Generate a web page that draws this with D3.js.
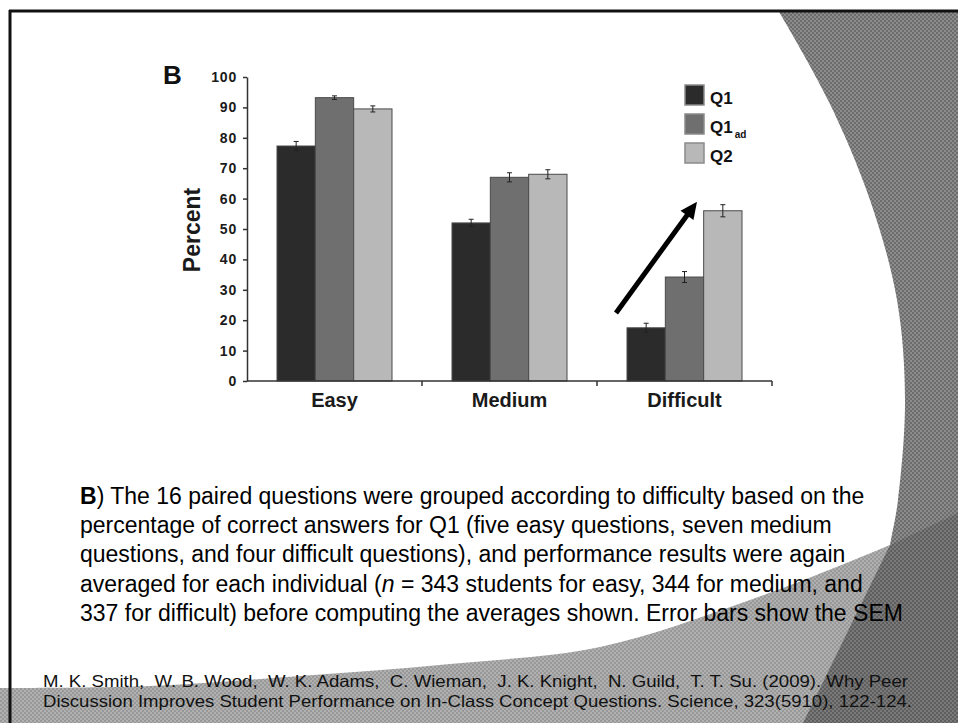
<!DOCTYPE html>
<html>
<head>
<meta charset="utf-8">
<script src="https://cdn.jsdelivr.net/npm/d3@7"></script>
<style>
  html, body { margin: 0; padding: 0; background: #ffffff; }
  svg { display: block; }
  text { font-family: "Liberation Sans", Arial, Helvetica, sans-serif; }
</style>
</head>
<body>
<svg id="chart" width="958" height="723"></svg>
<script>
// ---------------- data ----------------
const categories = ["Easy", "Medium", "Difficult"];
const seriesKeys = ["Q1", "Q1ad", "Q2"];
const q1Values   = [77.3, 52.0, 17.5];
const q1adValues = [93.2, 67.0, 34.2];
const q2Values   = [89.5, 68.0, 56.0];
const q1Errors   = [1.5, 1.2, 1.5];
const q1adErrors = [0.6, 1.5, 1.8];
const q2Errors   = [1.0, 1.5, 2.0];
const yTickValues = [0, 10, 20, 30, 40, 50, 60, 70, 80, 90, 100];
const panelLabel = "B";
const yAxisTitle = "Percent";
const captionLines = [
  [{t: "B", b: true}, {t: ") The 16 paired questions were grouped according to difficulty based on the"}],
  [{t: "percentage of correct answers for Q1 (five easy questions, seven medium"}],
  [{t: "questions, and four difficult questions), and performance results were again"}],
  [{t: "averaged for each individual ("}, {t: "n", i: true}, {t: " = 343 students for easy, 344 for medium, and"}],
  [{t: "337 for difficult) before computing the averages shown. Error bars show the SEM"}]
];
const citationLines = [
  "M. K. Smith,  W. B. Wood,  W. K. Adams,  C. Wieman,  J. K. Knight,  N. Guild,  T. T. Su. (2009). Why Peer",
  "Discussion Improves Student Performance on In-Class Concept Questions. Science, 323(5910), 122-124."
];

// ---------------- styles ----------------
const seriesColors = {Q1: "#2b2b2b", Q1ad: "#6f6f6f", Q2: "#b8b8b8"};

const svg = d3.select("#chart");
const defs = svg.append("defs");

function checker(id, a, b) {
  const p = defs.append("pattern").attr("id", id).attr("patternUnits", "userSpaceOnUse")
    .attr("width", 4).attr("height", 4);
  p.append("rect").attr("width", 4).attr("height", 4).attr("fill", a);
  p.append("rect").attr("x", 0).attr("y", 0).attr("width", 2).attr("height", 2).attr("fill", b);
  p.append("rect").attr("x", 2).attr("y", 2).attr("width", 2).attr("height", 2).attr("fill", b);
}
checker("patRibbon", "#8c8c8c", "#6c6c6c");
checker("patWave", "#b0b0b0", "#989898");
checker("patDark", "#7a7a7a", "#5e5e5e");

// ---------------- slide background ----------------
const curve = d3.line().curve(d3.curveCatmullRom.alpha(0.5));
const ribbonPts = [[778, 10], [828, 100], [870, 200], [897, 300], [905, 400], [898, 500], [890, 545], [880, 600]];
svg.append("path")
  .attr("d", curve(ribbonPts) + `L958,723L958,10Z`)
  .attr("fill", "url(#patRibbon)");
const wavePts = [[0, 688], [150, 686], [300, 676], [450, 664], [600, 647], [750, 600], [890, 545], [958, 515]];
svg.append("path")
  .attr("d", curve(wavePts) + `L958,723L0,723Z`)
  .attr("fill", "url(#patWave)");
svg.append("path")
  .attr("d", "M890,545L958,513L958,723L803,723Z")
  .attr("fill", "url(#patDark)");

// slide frame lines
svg.append("line").attr("x1", 9).attr("x2", 958).attr("y1", 11).attr("y2", 11)
  .attr("stroke", "#111").attr("stroke-width", 3);
svg.append("line").attr("x1", 10).attr("x2", 10).attr("y1", 10).attr("y2", 723)
  .attr("stroke", "#111").attr("stroke-width", 3);

// ---------------- chart ----------------
const plot = {left: 247, right: 772, top: 77, bottom: 381};

const y = d3.scaleLinear().domain([0, 100]).range([plot.bottom, plot.top]);
const x0 = d3.scaleBand().domain(categories).range([plot.left, plot.right]).paddingInner(0).paddingOuter(0);
const x1 = d3.scaleBand().domain(seriesKeys).range([30, 145]).padding(0);

const valuesBy = {Q1: q1Values, Q1ad: q1adValues, Q2: q2Values};
const errorsBy = {Q1: q1Errors, Q1ad: q1adErrors, Q2: q2Errors};

const rows = [];
categories.forEach((c, i) => {
  seriesKeys.forEach(k => rows.push({cat: c, key: k, v: valuesBy[k][i], e: errorsBy[k][i]}));
});

const g = svg.append("g");

// bars
g.selectAll("rect.bar").data(rows).join("rect")
  .attr("class", "bar")
  .attr("x", d => x0(d.cat) + x1(d.key))
  .attr("y", d => y(d.v))
  .attr("width", x1.bandwidth())
  .attr("height", d => y(0) - y(d.v))
  .attr("fill", d => seriesColors[d.key])
  .attr("stroke", "#4a4a4a")
  .attr("stroke-width", 1);

// error bars
const eb = g.selectAll("g.err").data(rows).join("g").attr("class", "err")
  .attr("transform", d => `translate(${x0(d.cat) + x1(d.key) + x1.bandwidth() / 2},0)`);
eb.append("line").attr("x1", 0).attr("x2", 0)
  .attr("y1", d => y(d.v + d.e)).attr("y2", d => y(d.v - d.e))
  .attr("stroke", "#222").attr("stroke-width", 1);
eb.append("line").attr("x1", -2.5).attr("x2", 2.5)
  .attr("y1", d => y(d.v + d.e)).attr("y2", d => y(d.v + d.e))
  .attr("stroke", "#222").attr("stroke-width", 1);
eb.append("line").attr("x1", -2.5).attr("x2", 2.5)
  .attr("y1", d => y(d.v - d.e)).attr("y2", d => y(d.v - d.e))
  .attr("stroke", "#222").attr("stroke-width", 1);

// y axis
const yAxis = g.append("g").attr("transform", `translate(${plot.left},0)`)
  .call(d3.axisLeft(y).tickValues(yTickValues).tickSize(4).tickSizeOuter(0).tickPadding(6));
yAxis.select(".domain").attr("stroke", "#333").attr("stroke-width", 1.5);
yAxis.selectAll(".tick line").attr("stroke", "#333").attr("stroke-width", 1.5);
yAxis.selectAll(".tick text")
  .attr("fill", "#1a1a1a")
  .style("font-family", "'Liberation Sans', Arial, sans-serif")
  .style("font-size", "14px").style("font-weight", "bold").style("letter-spacing", "0.8px");

// x axis (ticks at category boundaries)
const xAxis = g.append("g").attr("transform", `translate(0,${plot.bottom})`);
xAxis.append("line").attr("x1", x0.range()[0]).attr("x2", x0.range()[1])
  .attr("stroke", "#333").attr("stroke-width", 1.5);
xAxis.selectAll("line.tk").data(categories).join("line").attr("class", "tk")
  .attr("x1", d => x0(d) + x0.bandwidth()).attr("x2", d => x0(d) + x0.bandwidth())
  .attr("y1", 0).attr("y2", 5).attr("stroke", "#333").attr("stroke-width", 1.5);
xAxis.selectAll("text").data(categories).join("text")
  .attr("x", d => x0(d) + x0.bandwidth() / 2)
  .attr("y", 26)
  .attr("text-anchor", "middle")
  .style("font-size", "20px").style("font-weight", "bold").attr("fill", "#1a1a1a")
  .text(d => d);

// y title
svg.append("text")
  .attr("transform", "translate(200,230) rotate(-90)")
  .attr("text-anchor", "middle")
  .style("font-size", "23px").style("font-weight", "bold").attr("fill", "#1a1a1a")
  .text(yAxisTitle);

// panel label
svg.append("text").attr("x", 163).attr("y", 84)
  .style("font-size", "26px").style("font-weight", "bold").attr("fill", "#111")
  .text(panelLabel);

// legend
const lg = svg.append("g").attr("transform", "translate(685,85)");
const li = lg.selectAll("g").data(seriesKeys).join("g")
  .attr("transform", (d, i) => `translate(0,${i * 29})`);
li.append("rect").attr("width", 19).attr("height", 20)
  .attr("fill", d => seriesColors[d]).attr("stroke", "#8a8a8a").attr("stroke-width", 1.5);
const lt = li.append("text").attr("x", 25).attr("y", 19)
  .style("font-size", "17px").style("font-weight", "bold").attr("fill", "#111");
lt.append("tspan").text(d => d.slice(0, 2));
lt.filter(d => d.length > 2).append("tspan")
  .attr("dy", 5).attr("dx", 2).style("font-size", "10px").text(d => d.slice(2));

// annotation arrow (Difficult group, from Q1 level up past Q2)
const aStart = [x0("Difficult") + 19, y(22.4)];
const aEnd = [x0("Difficult") + 100, y(59)];
const ang = Math.atan2(aEnd[1] - aStart[1], aEnd[0] - aStart[0]);
const headLen = 17, headW = 8;
const base = [aEnd[0] - headLen * Math.cos(ang), aEnd[1] - headLen * Math.sin(ang)];
svg.append("line")
  .attr("x1", aStart[0]).attr("y1", aStart[1]).attr("x2", base[0] + 2 * Math.cos(ang)).attr("y2", base[1] + 2 * Math.sin(ang))
  .attr("stroke", "#000").attr("stroke-width", 5);
svg.append("path")
  .attr("d", `M${aEnd[0]},${aEnd[1]}L${base[0] + headW * Math.sin(ang)},${base[1] - headW * Math.cos(ang)}L${base[0] - headW * Math.sin(ang)},${base[1] + headW * Math.cos(ang)}Z`)
  .attr("fill", "#000");

// caption paragraph
const cap = svg.append("g");
captionLines.forEach((parts, i) => {
  const t = cap.append("text").attr("x", 80).attr("y", 504 + i * 29.2)
    .style("font-size", "23px").attr("fill", "#000").style("white-space", "pre");
  parts.forEach(p => {
    t.append("tspan").text(p.t)
      .style("font-weight", p.b ? "bold" : "normal")
      .style("font-style", p.i ? "italic" : "normal");
  });
});

// citation
const citeY = [687, 707];
const citeEnd = [908, 912];
citationLines.forEach((s, i) => {
  svg.append("text").attr("x", 43).attr("y", citeY[i])
    .style("font-size", "16.5px").attr("fill", "#111").style("white-space", "pre")
    .attr("textLength", citeEnd[i] - 43).attr("lengthAdjust", "spacingAndGlyphs")
    .text(s);
});
</script>
</body>
</html>
